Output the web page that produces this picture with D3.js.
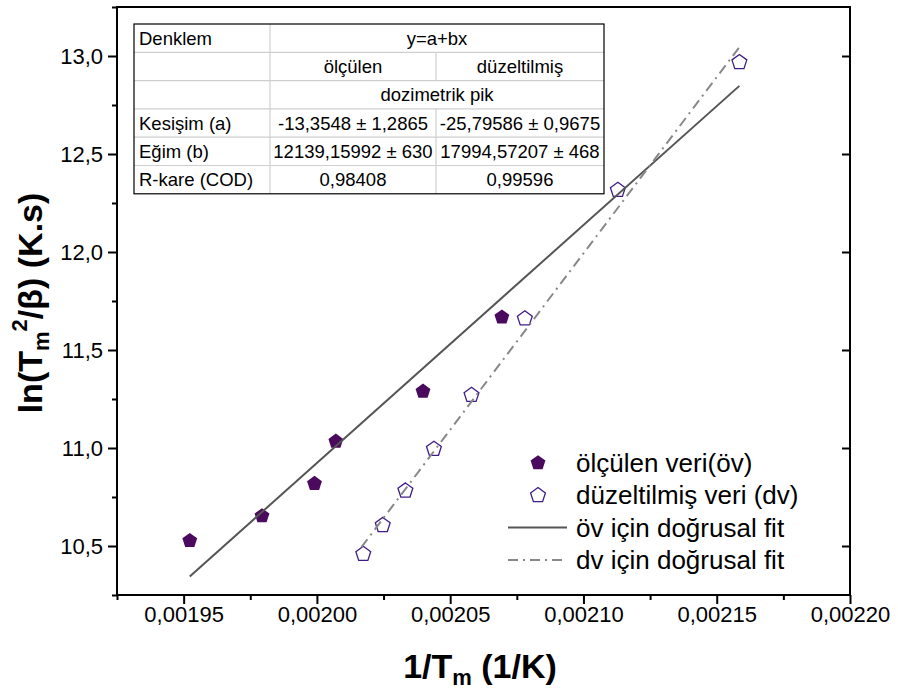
<!DOCTYPE html>
<html>
<head>
<meta charset="utf-8">
<script src="https://cdn.jsdelivr.net/npm/d3@7"></script>
<style>
    body { margin: 0; background: #fff; }
    svg { display: block; font-family: "Liberation Sans", Arial, sans-serif; }
</style>
</head>
<body>
<svg id="chart" width="898" height="689"></svg>
<script>
// measured data (öv) and corrected data (dv)
const ovX = [0.0019523, 0.0019794, 0.0019991, 0.0020071, 0.0020398, 0.0020694];
const ovY = [10.527, 10.653, 10.818, 11.034, 11.289, 11.667];
const dvX = [0.0020174, 0.0020247, 0.0020332, 0.0020439, 0.0020580, 0.0020780, 0.0021129, 0.0021585];
const dvY = [10.459, 10.606, 10.782, 10.995, 11.270, 11.660, 12.316, 12.968];

// linear fits y = a + b x
const fitA = [-13.3548, -25.79586];
const fitB = [12139.15992, 17994.57207];
const fitXRange = [[0.0019523, 0.0021585], [0.0020167, 0.0021585]];

const xTicks = [0.00195, 0.00200, 0.00205, 0.00210, 0.00215, 0.00220];
const xMinor = [0.001925, 0.001975, 0.002025, 0.002075, 0.002125, 0.002175];
const yTicks = [10.5, 11.0, 11.5, 12.0, 12.5, 13.0];
const yMinor = [10.25, 10.75, 11.25, 11.75, 12.25, 12.75, 13.25];

const legendLabels = ["ölçülen veri(öv)", "düzeltilmiş veri (dv)", "öv için doğrusal fit", "dv için doğrusal fit"];

// table content
const tableRowLabels = ["Denklem", "", "", "Kesişim (a)", "Eğim (b)", "R-kare (COD)"];
const tableEquation = "y=a+bx";
const tableColumns = ["ölçülen", "düzeltilmiş"];
const tablePeak = "dozimetrik pik";
const tableIntercept = ["-13,3548 ± 1,2865", "-25,79586 ± 0,9675"];
const tableSlope = ["12139,15992 ± 630", "17994,57207 ± 468"];
const tableR2 = ["0,98408", "0,99596"];

const ovColor = "#4a0a5e";
const dvColor = "#3f1d86";

const locale = d3.formatLocale({decimal: ",", thousands: ".", grouping: [3], currency: ["", ""]});
const fmtX = locale.format(".5f");
const fmtY = locale.format(".1f");

const svg = d3.select("#chart");
const margin = {top: 7, right: 48, bottom: 94, left: 117};
const width = 898 - margin.left - margin.right;
const height = 689 - margin.top - margin.bottom;

const x = d3.scaleLinear().domain([0.001925, 0.0022]).range([0, width]);
const y = d3.scaleLinear().domain([10.25, 13.25]).range([height, 0]);

const g = svg.append("g").attr("transform", "translate(" + margin.left + "," + margin.top + ")");

function pentagon(r) {
    let pts = [];
    for (let k = 0; k < 5; k++) {
        let a = (-90 + k * 72) * Math.PI / 180;
        pts.push([r * Math.cos(a), r * Math.sin(a)]);
    }
    return "M" + pts.map(p => p[0].toFixed(2) + "," + p[1].toFixed(2)).join("L") + "Z";
}

// axes
const xAxis = d3.axisBottom(x).tickValues(xTicks).tickFormat(fmtX).tickSize(9).tickPadding(2);
const xAxisMinor = d3.axisBottom(x).tickValues(xMinor).tickFormat("").tickSize(5);
const yAxis = d3.axisLeft(y).tickValues(yTicks).tickFormat(fmtY).tickSize(9).tickPadding(5);
const yAxisMinor = d3.axisLeft(y).tickValues(yMinor).tickFormat("").tickSize(5);
const yAxisRight = d3.axisLeft(y).tickValues(yTicks).tickFormat("").tickSize(8);

function styleAxis(sel) {
    sel.select(".domain").remove();
    sel.selectAll("line").attr("stroke", "#000").attr("stroke-width", 2);
    sel.selectAll("text").attr("fill", "#000").style("font-size", "22px");
}

g.append("g").attr("transform", "translate(0," + height + ")").call(xAxis).call(styleAxis);
g.append("g").attr("transform", "translate(0," + height + ")").call(xAxisMinor).call(styleAxis);
g.append("g").call(yAxis).call(styleAxis);
g.append("g").call(yAxisMinor).call(styleAxis);
g.append("g").attr("transform", "translate(" + width + ",0)").call(yAxisRight).call(styleAxis);

g.append("rect")
    .attr("width", width)
    .attr("height", height)
    .attr("fill", "none")
    .attr("stroke", "#000")
    .attr("stroke-width", 2);

// data points
g.selectAll(".ov").data(ovX).join("path")
    .attr("class", "ov")
    .attr("d", pentagon(7.8))
    .attr("transform", (d, i) => "translate(" + x(d) + "," + y(ovY[i]) + ")")
    .attr("fill", ovColor);

g.selectAll(".dv").data(dvX).join("path")
    .attr("class", "dv")
    .attr("d", pentagon(7.8))
    .attr("transform", (d, i) => "translate(" + x(d) + "," + y(dvY[i]) + ")")
    .attr("fill", "none")
    .attr("stroke", dvColor)
    .attr("stroke-width", 1.3);

// fit lines
const fitStyles = [
    {color: "#555555", dash: null},
    {color: "#888888", dash: "10,5,2,5"}
];
const line = d3.line().x(d => x(d[0])).y(d => y(d[1]));
for (let i = 0; i < 2; i++) {
    let pts = fitXRange[i].map(v => [v, fitA[i] + fitB[i] * v]);
    g.append("path")
        .datum(pts)
        .attr("d", line)
        .attr("fill", "none")
        .attr("stroke", fitStyles[i].color)
        .attr("stroke-width", 2)
        .attr("stroke-dasharray", fitStyles[i].dash);
}

// axis titles
svg.append("text")
    .attr("x", 480)
    .attr("y", 678)
    .attr("text-anchor", "middle")
    .style("font-size", "34px")
    .style("font-weight", "bold")
    .call(t => {
        t.append("tspan").text("1/T");
        t.append("tspan").attr("dy", 7).style("font-size", "22px").text("m");
        t.append("tspan").attr("dy", -7).text(" (1/K)");
    });

svg.append("text")
    .attr("transform", "translate(42," + (margin.top + height / 2 + 2) + ") rotate(-90)")
    .attr("text-anchor", "middle")
    .style("font-size", "34px")
    .style("font-weight", "bold")
    .call(t => {
        t.append("tspan").text("ln(T");
        t.append("tspan").attr("dy", 7).style("font-size", "22px").text("m");
        t.append("tspan").attr("dy", -22).style("font-size", "22px").text("2");
        t.append("tspan").attr("dy", 15).text("/β) (K.s)");
    });

// legend
const legend = svg.append("g").attr("transform", "translate(508,463)");
const rowGap = 32.3;
legend.append("path").attr("d", pentagon(7.8)).attr("transform", "translate(30,0)").attr("fill", ovColor);
legend.append("path").attr("d", pentagon(7.8)).attr("transform", "translate(30," + rowGap + ")")
    .attr("fill", "none").attr("stroke", dvColor).attr("stroke-width", 1.3);
for (let i = 0; i < 2; i++) {
    legend.append("line")
        .attr("x1", 0).attr("x2", 59)
        .attr("y1", rowGap * (2 + i)).attr("y2", rowGap * (2 + i))
        .attr("stroke", fitStyles[i].color)
        .attr("stroke-width", 2)
        .attr("stroke-dasharray", fitStyles[i].dash);
}
legend.selectAll(".lbl").data(legendLabels).join("text")
    .attr("class", "lbl")
    .attr("x", 68)
    .attr("y", (d, i) => rowGap * i)
    .attr("dy", "0.35em")
    .style("font-size", "26px")
    .text(d => d);

// parameter table
const tbl = svg.append("g").attr("transform", "translate(134,24)");
const colX = [0, 136, 302, 470];
const rowH = 28.3;
const nRows = tableRowLabels.length;
tbl.append("rect").attr("width", colX[3]).attr("height", rowH * nRows).attr("fill", "#fff");
for (let r = 1; r < nRows; r++) {
    tbl.append("line").attr("x1", 0).attr("x2", colX[3]).attr("y1", r * rowH).attr("y2", r * rowH)
        .attr("stroke", "#cfcfcf").attr("stroke-width", 1.2);
}
tbl.append("line").attr("x1", colX[1]).attr("x2", colX[1]).attr("y1", 0).attr("y2", rowH * nRows)
    .attr("stroke", "#cfcfcf").attr("stroke-width", 1.2);
[1, 3, 4, 5].forEach(r => {
    tbl.append("line").attr("x1", colX[2]).attr("x2", colX[2]).attr("y1", r * rowH).attr("y2", (r + 1) * rowH)
        .attr("stroke", "#cfcfcf").attr("stroke-width", 1.2);
});
tbl.append("rect").attr("width", colX[3]).attr("height", rowH * nRows)
    .attr("fill", "none").attr("stroke", "#000").attr("stroke-width", 1.2);

function cell(text, cx, r, anchor) {
    tbl.append("text")
        .attr("x", cx)
        .attr("y", r * rowH + rowH / 2)
        .attr("dy", "0.35em")
        .attr("text-anchor", anchor)
        .style("font-size", "18.5px")
        .text(text);
}
tableRowLabels.forEach((t, r) => cell(t, 5, r, "start"));
const mid = (colX[1] + colX[3]) / 2;
const c1 = (colX[1] + colX[2]) / 2, c2 = (colX[2] + colX[3]) / 2;
cell(tableEquation, mid, 0, "middle");
cell(tableColumns[0], c1, 1, "middle");
cell(tableColumns[1], c2, 1, "middle");
cell(tablePeak, mid, 2, "middle");
[tableIntercept, tableSlope, tableR2].forEach((vals, k) => {
    cell(vals[0], c1, 3 + k, "middle");
    cell(vals[1], c2, 3 + k, "middle");
});
</script>
</body>
</html>
